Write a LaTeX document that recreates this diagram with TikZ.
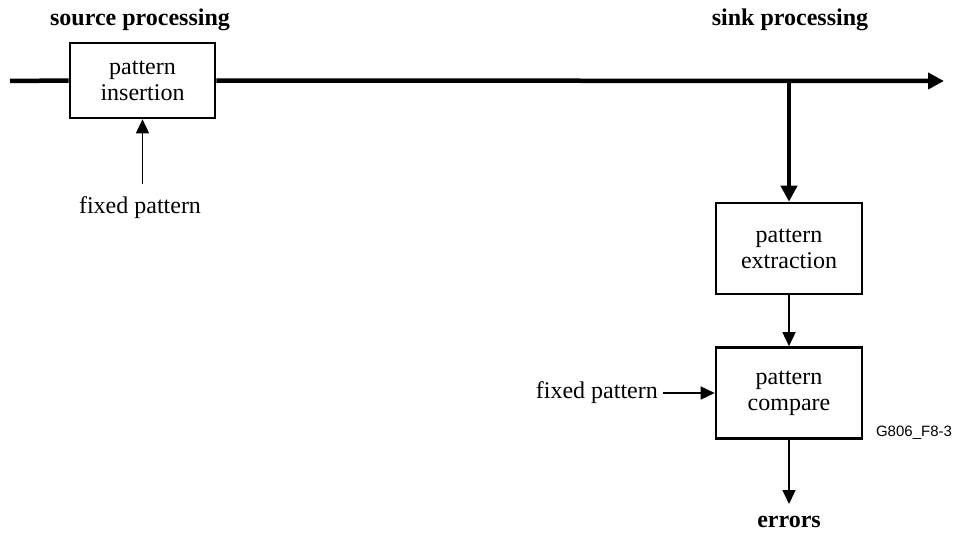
\documentclass[tikz,border=0pt]{standalone}
\usepackage{fontspec}
\setmainfont{Liberation Serif}
\setsansfont{Liberation Sans}
\usetikzlibrary{arrows.meta}
\begin{document}
\begin{tikzpicture}[x=1pt,y=-1pt,
  box/.style={draw,line width=2.6pt,minimum width=146pt,minimum height=91pt,align=center,font=\fontsize{24}{26}\selectfont,inner sep=0pt},
  lbl/.style={font=\fontsize{24}{26}\selectfont,inner sep=0pt},
  blbl/.style={font=\fontsize{24}{26}\selectfont\bfseries,inner sep=0pt},
  thick line/.style={line width=4.5pt},
  thin arrow/.style={line width=1.6pt,-{Triangle[length=14pt,width=13pt]}},
  big arrow/.style={line width=4.5pt,-{Triangle[length=16pt,width=16pt]}}]
\useasboundingbox (0,0) rectangle (956,535);
\node[box,minimum height=75pt,minimum width=145pt] (ins) at (142.5,80.5) {pattern\\insertion};
\node[box] (ext) at (789,248.5) {pattern\\extraction};
\node[box] (cmp) at (789,393) {pattern\\compare};
\node[blbl] (src) at (140,20) {source processing};
\node[blbl] (snk) at (790,20) {sink processing};
\node[lbl] (fp1) at (140,208) {fixed pattern};
\node[lbl,anchor=east] (fp2) at (658,393) {fixed pattern};
\node[blbl] (err) at (789,522) {errors};
\node[font=\sffamily\fontsize{15}{17}\selectfont,inner sep=0pt] (id) at (914,433) {G806\_F8-3};
\coordinate (in) at (10,81);
\coordinate (out) at (944,81);
\coordinate (br) at (789,81);
\coordinate (errtip) at (789,504);
\coordinate (fp1top) at (142.5,184);
\coordinate (fp2end) at (663,393);
\draw[thick line] (in) -- (ins.west);
\draw[big arrow] (ins.east) -- (out);
\draw[big arrow] (br) -- (ext.north);
\draw[thin arrow] (fp1top) -- (ins.south);
\draw[thin arrow] (ext.south) -- (cmp.north);
\draw[thin arrow] (fp2end) -- (cmp.west);
\draw[thin arrow] (cmp.south) -- (errtip);
\end{tikzpicture}
\end{document}
